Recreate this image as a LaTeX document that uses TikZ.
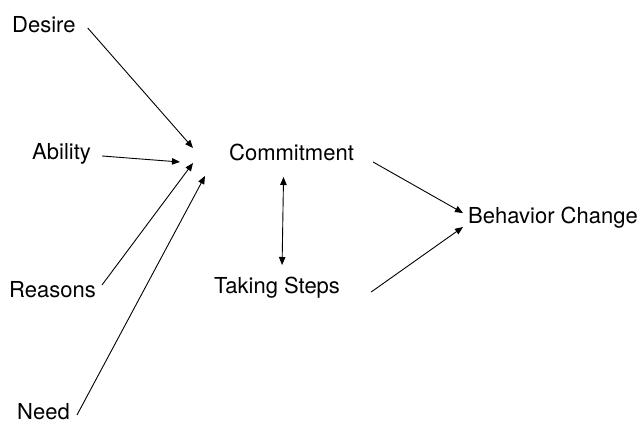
\documentclass[tikz,border=0pt]{standalone}
\usepackage{fontspec}
\setmainfont{TeX Gyre Heros}
\usetikzlibrary{arrows.meta}
\begin{document}
\begin{tikzpicture}[x=1pt,y=-1pt,
  lbl/.style={inner sep=0pt, anchor=base west, font=\fontsize{22}{26}\selectfont},
  arr/.style={-{Triangle[length=8pt,width=6.5pt]}, line width=0.9pt},
  darr/.style={{Triangle[length=8pt,width=6.5pt]}-{Triangle[length=8pt,width=6.5pt]}, line width=0.9pt}]
\useasboundingbox (0,0) rectangle (641,423);
\node[lbl] (desire)  at (12,32.5) {Desire};
\node[lbl] (ability) at (32,159) {Ability};
\node[lbl] (reasons) at (9,297) {Reasons};
\node[lbl] (need)    at (17,419) {Need};
\node[lbl] (commit)  at (229,160) {Commitment};
\node[lbl] (steps)   at (214,293) {Taking Steps};
\node[lbl] (bc)      at (468,223) {Behavior Change};
\coordinate (tdesire)  at (193,148);
\coordinate (tability) at (180,162);
\coordinate (treasons) at (193,163);
\coordinate (tneed)    at (205,176);
\draw[arr] ([shift={(12,-4.5)}]desire.base east) -- (tdesire);
\draw[arr] ([shift={(11,-3)}]ability.base east) -- (tability);
\draw[arr] ([shift={(6,-12)}]reasons.base east) -- (treasons);
\draw[arr] ([shift={(7,-4)}]need.base east) -- (tneed);
\draw[darr] ([shift={(-8,17)}]commit.base) -- ([shift={(5,-28)}]steps.base);
\draw[arr] ([shift={(19,2)}]commit.base east) -- ([shift={(-5,-10)}]bc.base west);
\draw[arr] ([shift={(31,-1)}]steps.base east) -- ([shift={(-5,4)}]bc.base west);
\end{tikzpicture}
\end{document}
